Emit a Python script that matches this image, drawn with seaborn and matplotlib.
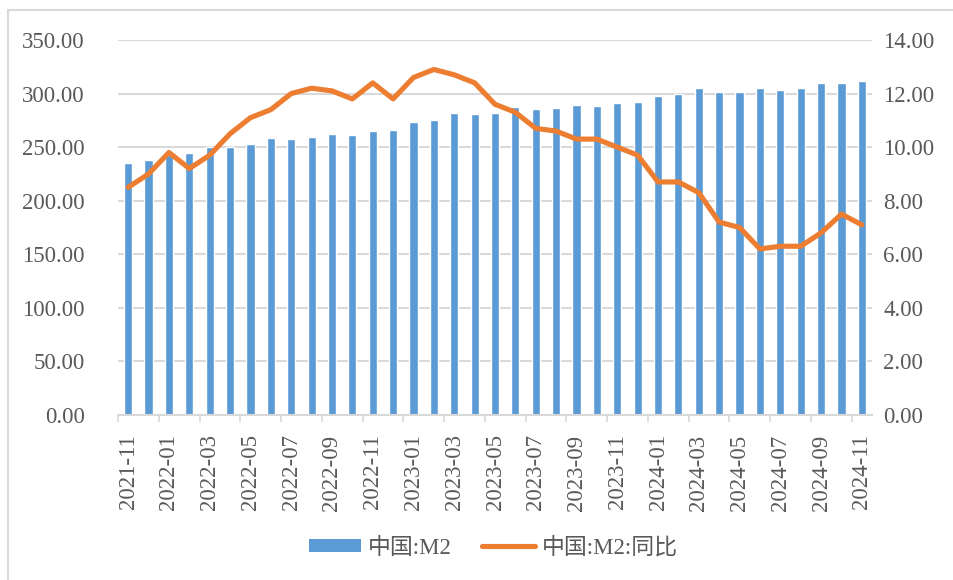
import numpy as np
import pandas as pd
import matplotlib
matplotlib.use("Agg")
import matplotlib.pyplot as plt
import seaborn as sns
from matplotlib.patches import Rectangle, Patch
from matplotlib.lines import Line2D
from matplotlib.ticker import FixedLocator, FormatStrFormatter

months = ["2021-11", "2021-12",
          "2022-01", "2022-02", "2022-03", "2022-04", "2022-05", "2022-06",
          "2022-07", "2022-08", "2022-09", "2022-10", "2022-11", "2022-12",
          "2023-01", "2023-02", "2023-03", "2023-04", "2023-05", "2023-06",
          "2023-07", "2023-08", "2023-09", "2023-10", "2023-11", "2023-12",
          "2024-01", "2024-02", "2024-03", "2024-04", "2024-05", "2024-06",
          "2024-07", "2024-08", "2024-09", "2024-10", "2024-11"]
m2 = [235.6, 238.3,
      243.1, 244.1, 249.8, 249.9, 252.7, 258.1,
      257.8, 259.5, 262.7, 261.2, 264.7, 266.4,
      273.8, 275.5, 281.5, 280.9, 282.1, 287.3,
      285.4, 286.9, 289.7, 288.2, 291.0, 292.3,
      297.6, 299.6, 304.8, 301.2, 301.8, 305.0,
      303.1, 305.1, 309.5, 310.0, 312.0]
m2_yoy = [8.5, 9.0,
          9.8, 9.2, 9.7, 10.5, 11.1, 11.4,
          12.0, 12.2, 12.1, 11.8, 12.4, 11.8,
          12.6, 12.9, 12.7, 12.4, 11.6, 11.3,
          10.7, 10.6, 10.3, 10.3, 10.0, 9.7,
          8.7, 8.7, 8.3, 7.2, 7.0, 6.2,
          6.3, 6.3, 6.8, 7.5, 7.1]
label_bar = "中国:M2"
label_line = "中国:M2:同比"

df = pd.DataFrame({"month": months, "m2": m2, "yoy": m2_yoy})
df["pos"] = np.arange(len(df))

sns.set_theme(style="white")
plt.rcParams["font.family"] = ["Liberation Serif", "Noto Sans CJK SC"]
TXT = "#595959"
BAR = "#5B9BD5"
LINE = "#ED7D31"
GRID = "#D9D9D9"
FS = 16.5
LW = 3.7

fig = plt.figure(figsize=(9.54, 5.80), dpi=100)
ax = fig.add_axes([118/954, 1-415/580, (872-118)/954, (415-40)/580])

sns.barplot(data=df, x="month", y="m2", ax=ax, color=BAR, width=0.4,
            saturation=1, order=months, zorder=2)
ax.set_xlim(-0.5, len(months)-0.5)
ax.set_ylim(0, 350)
ax.set_yticks(np.arange(0, 351, 50))
ax.yaxis.set_major_formatter(FormatStrFormatter("%.2f"))
ax.grid(axis="y", color=GRID, linewidth=1.5, zorder=0)
ax.set_axisbelow(True)
ax.set_xlabel("")
ax.set_ylabel("")
ax.set_xticks(np.arange(0, len(months), 2))
ax.set_xticklabels(months[::2], rotation=90)
ax.xaxis.set_minor_locator(FixedLocator(np.arange(-0.5, len(months), 2)))
ax.tick_params(axis="x", which="major", length=0, pad=14, labelsize=FS, labelcolor=TXT)
ax.tick_params(axis="x", which="minor", length=5, width=1.2, color=GRID, bottom=True)
ax.tick_params(axis="y", length=0, pad=24, labelsize=FS, labelcolor=TXT)
for s in ["top", "right", "left"]:
    ax.spines[s].set_visible(False)
ax.spines["bottom"].set_color(GRID)
ax.spines["bottom"].set_linewidth(1.5)
ax.spines["bottom"].set_zorder(3)

ax2 = ax.twinx()
sns.lineplot(data=df, x="pos", y="yoy", ax=ax2, color=LINE, linewidth=LW,
             zorder=4, solid_capstyle="round", solid_joinstyle="round")
ax2.set_ylim(0, 14)
ax2.set_yticks(np.arange(0, 14.01, 2))
ax2.yaxis.set_major_formatter(FormatStrFormatter("%.2f"))
ax2.tick_params(axis="y", length=0, pad=8, labelsize=FS, labelcolor=TXT)
ax2.set_xlabel("")
ax2.set_ylabel("")
ax2.grid(False)
for s in ["top", "right", "left", "bottom"]:
    ax2.spines[s].set_visible(False)
ax2.set_xlim(-0.5, len(months)-0.5)

handles = [Patch(facecolor=BAR, edgecolor="none", label=label_bar),
           Line2D([0], [0], color=LINE, linewidth=LW, solid_capstyle="round", label=label_line)]
leg = fig.legend(handles=handles, loc="center", bbox_to_anchor=(493/954, 1-548/580),
                 ncol=2, frameon=False, fontsize=FS, handlelength=2.3, handleheight=0.5,
                 handletextpad=0.3, columnspacing=1.3)
for t in leg.get_texts():
    t.set_color(TXT)

fig.patches.append(Rectangle((8/954, -0.1), 1.2, 1-10/580+0.1, transform=fig.transFigure,
                             fill=False, edgecolor="#D9D9D9", linewidth=1.5, zorder=0))

fig.savefig("out.png", dpi=100)
